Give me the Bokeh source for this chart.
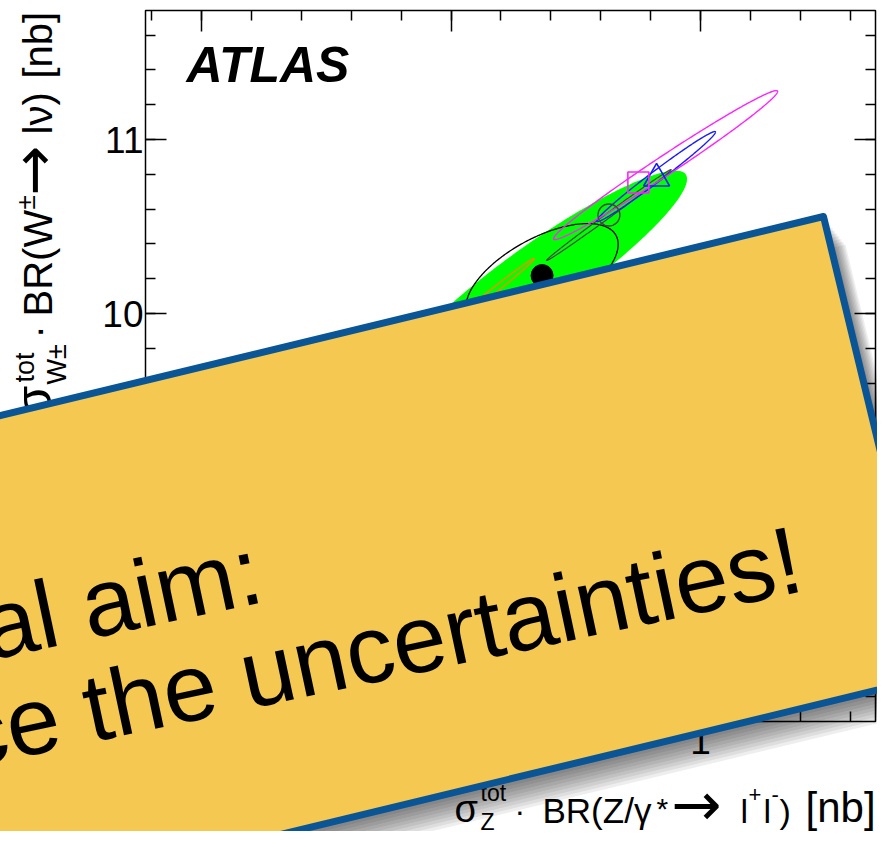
import numpy as np
from bokeh.plotting import figure
from bokeh.models import Range1d, LinearAxis, FixedTicker, CustomJSTickFormatter
from bokeh.embed import file_html
from bokeh.resources import INLINE
from bokeh.core.properties import value

# ---------------- data ----------------
data_point_x = [0.9365]
data_point_y = [10.218]

# ellipses: centre, sigma_x, sigma_y, correlation
ell_cx = [0.9365, 0.9365, 0.9158, 0.9633, 0.9822, 0.9860]
ell_cy = [10.218, 10.218, 10.115, 10.566, 10.787, 10.853]
ell_sx = [0.0581, 0.0305, 0.0176, 0.0250, 0.0238, 0.0449]
ell_sy = [0.603, 0.299, 0.201, 0.2615, 0.2586, 0.428]
ell_rho = [0.92, 0.60, 0.995, 0.9978, 0.988, 0.988]

circle_x, circle_y = [0.9633], [10.566]      # grey open circle
triangle_x, triangle_y = [0.9824], [10.776]  # blue open triangle
square_x, square_y = [0.9751], [10.753]      # magenta open square

x_major_ticks = [0.8, 0.9, 1.0]
x_minor_ticks = [0.78, 0.80, 0.82, 0.84, 0.86, 0.88, 0.90, 0.92, 0.94, 0.96,
                 0.98, 1.00, 1.02, 1.04, 1.06]
y_major_ticks = [8, 9, 10, 11]
y_minor_ticks = [7.8, 8.0, 8.2, 8.4, 8.6, 8.8, 9.0, 9.2, 9.4, 9.6, 9.8, 10.0,
                 10.2, 10.4, 10.6, 10.8, 11.0, 11.2, 11.4, 11.6]

# ---------------- layout helpers (canvas pixel -> data) ----------------
W, H = 877, 831
XPX1, XSC = 700.0, 2495.0
YPX10, YSC = 313.0, 174.0


def dx(px):
    return 1.0 + (px - XPX1) / XSC


def dy(py):
    return 10.0 - (py - YPX10) / YSC


FL, FT, FR, FB = 145, 10, 875, 721   # ATLAS frame edges (canvas px)

p = figure(width=W, height=H,
           x_range=Range1d(dx(0), dx(W)), y_range=Range1d(dy(H), dy(0)),
           output_backend="svg", toolbar_location=None,
           x_axis_location=None, y_axis_location=None,
           min_border=0, min_border_left=0, min_border_right=0,
           min_border_top=0, min_border_bottom=0)
p.grid.visible = False
p.outline_line_color = None
p.background_fill_color = "white"
p.border_fill_color = "white"

xt = FixedTicker(ticks=x_major_ticks, minor_ticks=x_minor_ticks)
yt = FixedTicker(ticks=y_major_ticks, minor_ticks=y_minor_ticks)
fmt = CustomJSTickFormatter(code="return String(Math.round(tick*100)/100);")
blank = CustomJSTickFormatter(code="return '';")

ax_left = LinearAxis(fixed_location=dx(FL), ticker=yt, formatter=fmt)
ax_right = LinearAxis(fixed_location=dx(FR), ticker=yt, formatter=blank)
ax_below = LinearAxis(fixed_location=dy(FB), ticker=xt, formatter=fmt)
ax_above = LinearAxis(fixed_location=dy(FT), ticker=xt, formatter=blank)
for ax in (ax_left, ax_right, ax_below, ax_above):
    ax.axis_line_color = None
    ax.major_tick_in = 21
    ax.major_tick_out = 0
    ax.minor_tick_in = 10
    ax.minor_tick_out = 0
    ax.major_tick_line_width = 1.5
    ax.minor_tick_line_width = 1.5
    ax.major_tick_line_color = "black"
    ax.minor_tick_line_color = "black"
    ax.major_label_text_font = "Liberation Sans"
    ax.major_label_text_font_size = "37px"
    ax.major_label_text_color = "black"
ax_left.major_label_standoff = 2
ax_below.major_label_standoff = 6
p.add_layout(ax_left, "left")
p.add_layout(ax_right, "right")
p.add_layout(ax_below, "below")
p.add_layout(ax_above, "above")

# ATLAS frame
p.quad(left=[dx(FL)], right=[dx(FR)], top=[dy(FT)], bottom=[dy(FB)],
       fill_color=None, line_color="black", line_width=1.5)

# ---------------- ellipses ----------------
t = np.linspace(0, 2 * np.pi, 361)


def ellipse(i):
    ex = ell_cx[i] + ell_sx[i] * np.cos(t)
    ey = ell_cy[i] + ell_sy[i] * (ell_rho[i] * np.cos(t)
                                  + np.sqrt(1 - ell_rho[i] ** 2) * np.sin(t))
    return ex, ey


gx, gy = ellipse(0)
p.patch(gx, gy, fill_color="#00ff00", line_color=None)
styles = [(1, "black", 1.3), (2, "#ff8800", 1.3), (3, "#444444", 1.2),
          (4, "#1a1aff", 1.4), (5, "#ff22ff", 1.4)]
for i, col, lw in styles:
    ex, ey = ellipse(i)
    p.line(ex, ey, line_color=col, line_width=lw)

p.scatter(circle_x, circle_y, marker="circle", size=22, fill_color=None,
          line_color="#444444", line_width=1.3)
p.scatter(triangle_x, triangle_y, marker="triangle", size=26, fill_color=None,
          line_color="#1a1aff", line_width=1.6)
p.scatter(square_x, square_y, marker="square", size=21, fill_color=None,
          line_color="#ff22ff", line_width=1.6)
p.scatter(data_point_x, data_point_y, marker="circle", size=22,
          fill_color="black", line_color="black")


def add_text(txt, px, py, size, angle=0.0, align="left", style="normal",
             level="glyph", font="Liberation Sans"):
    """(px, py): point on the text baseline, canvas pixels."""
    ux, uy = -np.sin(angle), -np.cos(angle)
    ax_ = px + 0.35 * size * ux
    ay_ = py + 0.35 * size * uy
    p.text(x=[dx(ax_)], y=[dy(ay_)], text=[txt], text_font=value(font),
           text_font_size=value(f"{size}px"), text_font_style=style,
           text_align=align, text_baseline="middle", angle=angle,
           text_color="black", level=level)


add_text("ATLAS", 186, 82, 50, style="bold italic")

# y-axis title (rotated, reads bottom to top)
R = np.pi / 2
add_text("σ", 51, 416, 50, angle=R)
add_text("tot", 34, 382, 27, angle=R)
add_text("W±", 66, 384, 27, angle=R)
add_text("·", 51, 338, 40, angle=R)
add_text("BR(W", 51, 316, 40, angle=R)
add_text("±", 35, 209, 26, angle=R)
add_text("→", 53, 195, 60, angle=R, font="DejaVu Sans")
add_text("lν)", 51, 134, 40, angle=R)
add_text("[nb]", 51, 78, 40, angle=R)

# x-axis title (kept inside the canvas)
SX, SY = -17, -16
add_text("σ", 471 + SX, 838 + SY, 38)
add_text("tot", 497 + SX, 817 + SY, 23)
add_text("Z", 497 + SX, 846 + SY, 23)
add_text("·", 531 + SX, 838 + SY, 32)
add_text("BR(Z/γ", 559 + SX, 838 + SY, 35)
add_text("*", 673 + SX, 834 + SY, 30)
add_text("→", 688 + SX, 840 + SY, 60, font="DejaVu Sans")
add_text("l", 757 + SX, 838 + SY, 34)
add_text("+", 765 + SX, 818 + SY, 22)
add_text("l", 780 + SX, 838 + SY, 34)
add_text("-", 788 + SX, 818 + SY, 22)
add_text(")", 796 + SX, 838 + SY, 34)
add_text("[nb]", 822 + SX, 838 + SY, 42)

# ---------------- overlay card ----------------
th = np.deg2rad(13.6)
TR = np.array([823.0, 216.0])
left_dir = np.array([-np.cos(th), np.sin(th)])
down_dir = np.array([np.sin(th), np.cos(th)])
TL = TR + 1100 * left_dir
BR_ = TR + 473 * down_dir
BL = TL + 473 * down_dir
corners = [TL, TR, BR_, BL]

for k in range(1, 11):
    off = np.array([2.2 * k, 2.8 * k])
    p.patch([dx(c[0] + off[0]) for c in corners],
            [dy(c[1] + off[1]) for c in corners],
            fill_color="black", fill_alpha=0.065, line_color=None,
            level="overlay")

p.patch([dx(c[0]) for c in corners], [dy(c[1]) for c in corners],
        fill_color="#f5c851", fill_alpha=1.0, line_color="#0a5596",
        line_width=7, line_join="round", level="overlay")

tang = np.deg2rad(12.0)
add_text("al aim:", 266, 601, 96, angle=tang, align="right", level="overlay")
add_text("ce the uncertainties!", 806, 590, 96, angle=tang, align="right",
         level="overlay")

open("out.html", "w").write(file_html(p, INLINE))
